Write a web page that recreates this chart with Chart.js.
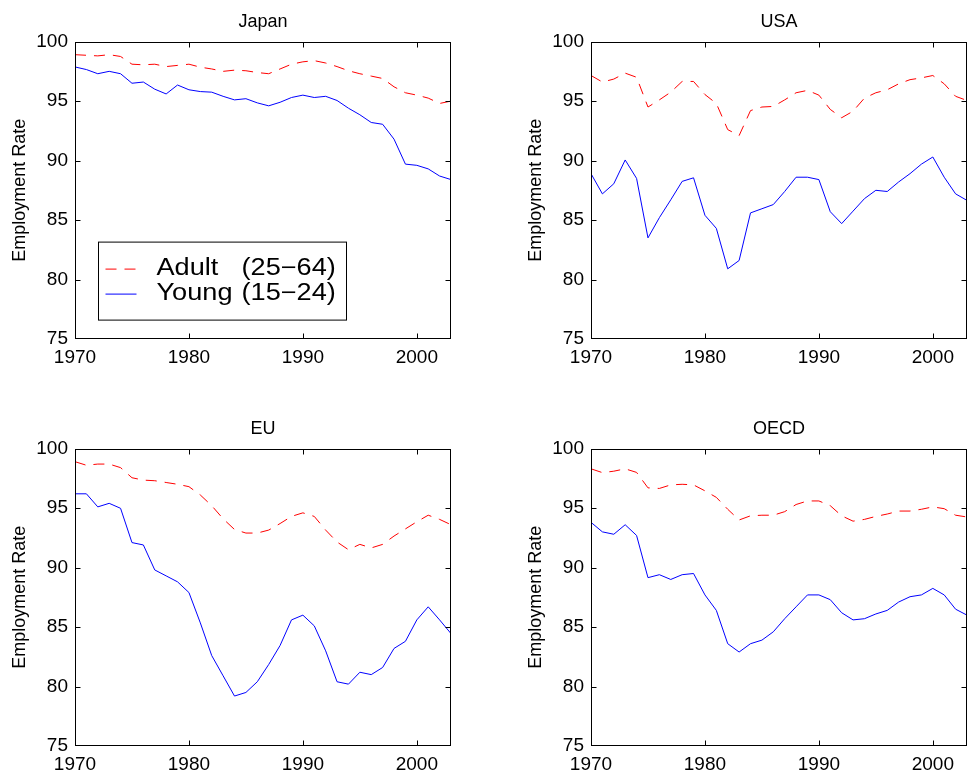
<!DOCTYPE html>
<html>
<head>
<meta charset="utf-8">
<title>Employment Rate</title>
<script src="https://cdn.jsdelivr.net/npm/chart.js@4.4.0/dist/chart.umd.min.js"></script>
<style>
  body { margin: 0; background: #fff; width: 968px; height: 778px; overflow: hidden; position: relative; }
  canvas { position: absolute; }
</style>
</head>
<body>
<canvas id="japan" width="452" height="371" style="left:0;top:0"></canvas>
<canvas id="usa" width="452" height="371" style="left:516px;top:0"></canvas>
<canvas id="eu" width="452" height="371" style="left:0;top:407px"></canvas>
<canvas id="oecd" width="452" height="371" style="left:516px;top:407px"></canvas>
<script>
// years on the x axis
const years = [1970, 1971, 1972, 1973, 1974, 1975, 1976, 1977, 1978, 1979,
               1980, 1981, 1982, 1983, 1984, 1985, 1986, 1987, 1988, 1989,
               1990, 1991, 1992, 1993, 1994, 1995, 1996, 1997, 1998, 1999,
               2000, 2001, 2002, 2003];
const xTicks = [1970, 1980, 1990, 2000];
const yTicks = [75, 80, 85, 90, 95, 100];
const seriesNames = ["Adult", "Young"];
const seriesAges = ["(25\u221264)", "(15\u221224)"];

// Japan
const japanAdult = [98.9, 98.85, 98.8, 98.9, 98.75, 98.1, 98.05, 98.1, 97.9, 98.0,
                    98.1, 97.85, 97.7, 97.5, 97.6, 97.55, 97.4, 97.3, 97.7, 98.1,
                    98.3, 98.4, 98.2, 97.9, 97.55, 97.3, 97.1, 96.9, 96.2, 95.7,
                    95.5, 95.25, 94.8, 95.0];
const japanYoung = [97.87, 97.65, 97.3, 97.5, 97.3, 96.5, 96.6, 96.0, 95.6, 96.35,
                    95.95, 95.8, 95.75, 95.4, 95.1, 95.2, 94.85, 94.6, 94.9, 95.3,
                    95.5, 95.3, 95.4, 95.05, 94.4, 93.85, 93.2, 93.05, 91.8, 89.7,
                    89.6, 89.3, 88.7, 88.4];

// USA
const usaAdult = [97.15, 96.6, 96.85, 97.35, 97.0, 94.5, 95.1, 95.75, 96.65, 96.65,
                  95.55, 94.8, 92.6, 92.1, 94.2, 94.5, 94.55, 95.1, 95.7, 95.9,
                  95.5, 94.3, 93.6, 94.15, 95.25, 95.7, 95.95, 96.45, 96.8, 96.95,
                  97.15, 96.45, 95.4, 95.05];
const usaYoung = [88.9, 87.2, 88.05, 90.05, 88.5, 83.5, 85.2, 86.7, 88.25, 88.55,
                  85.4, 84.3, 80.9, 81.6, 85.6, 85.95, 86.3, 87.4, 88.6, 88.6,
                  88.4, 85.7, 84.7, 85.75, 86.8, 87.5, 87.4, 88.2, 88.9, 89.7,
                  90.3, 88.6, 87.2, 86.65];

// EU
const euAdult = [98.9, 98.6, 98.7, 98.7, 98.4, 97.55, 97.35, 97.3, 97.15, 97.0,
                 96.8, 96.1, 95.2, 94.1, 93.2, 92.9, 92.9, 93.15, 93.7, 94.3,
                 94.6, 94.3, 93.15, 92.15, 91.5, 91.95, 91.65, 91.95, 92.65, 93.25,
                 93.85, 94.4, 94.05, 93.6];
const euYoung = [96.2, 96.2, 95.1, 95.4, 94.98, 92.1, 91.9, 89.8, 89.3, 88.8,
                 87.9, 85.35, 82.6, 80.9, 79.2, 79.5, 80.4, 81.85, 83.45, 85.6,
                 86.0, 85.1, 83.0, 80.4, 80.2, 81.2, 81.0, 81.6, 83.2, 83.8,
                 85.6, 86.7, 85.6, 84.45];

// OECD
const oecdAdult = [98.3, 97.98, 98.1, 98.3, 98.0, 96.7, 96.65, 96.95, 97.0, 96.95,
                   96.45, 95.9, 94.9, 94.0, 94.35, 94.4, 94.4, 94.7, 95.3, 95.6,
                   95.6, 95.2, 94.35, 93.9, 94.05, 94.3, 94.5, 94.75, 94.75, 94.9,
                   95.1, 94.95, 94.4, 94.25];
const oecdYoung = [93.8, 93.0, 92.8, 93.6, 92.7, 89.15, 89.4, 89.0, 89.4, 89.5,
                   87.7, 86.4, 83.6, 82.9, 83.6, 83.9, 84.6, 85.7, 86.7, 87.7,
                   87.7, 87.3, 86.2, 85.6, 85.7, 86.1, 86.4, 87.1, 87.55, 87.7,
                   88.25, 87.7, 86.5, 86.0];

const FONT = '"Liberation Sans", Arial, Helvetica, sans-serif';
Chart.defaults.font.family = FONT;
Chart.defaults.color = "#000";

const ADULT_DASH = [11, 8];

// MATLAB style box with inward ticks on all four sides
const framePlugin = {
  id: "frame",
  afterDraw(chart) {
    const { ctx, chartArea: a, scales } = chart;
    const L = Math.round(a.left) + 0.5, R = Math.round(a.right) - 0.5;
    const T = Math.round(a.top) + 0.5, B = Math.round(a.bottom) - 0.5;
    const tl = 5;
    ctx.save();
    ctx.strokeStyle = "#000";
    ctx.lineWidth = 1;
    ctx.strokeRect(L, T, R - L, B - T);
    ctx.beginPath();
    xTicks.forEach(v => {
      const px = Math.round(scales.x.getPixelForValue(v)) + 0.5;
      if (px <= L + 1 || px >= R - 1) return;
      ctx.moveTo(px, B); ctx.lineTo(px, B - tl);
      ctx.moveTo(px, T); ctx.lineTo(px, T + tl);
    });
    yTicks.forEach(v => {
      const py = Math.round(scales.y.getPixelForValue(v)) + 0.5;
      if (py <= T + 1 || py >= B - 1) return;
      ctx.moveTo(L, py); ctx.lineTo(L + tl, py);
      ctx.moveTo(R, py); ctx.lineTo(R - tl, py);
    });
    ctx.stroke();
    ctx.restore();
  }
};

// legend box drawn inside the Japan panel
const legendBoxPlugin = {
  id: "legendBox",
  afterDraw(chart) {
    const { ctx, chartArea: a } = chart;
    const x0 = a.left + 23.5, y0 = a.top + 200.5, w = 248, h = 78;
    ctx.save();
    ctx.fillStyle = "#fff";
    ctx.fillRect(x0, y0, w, h);
    ctx.strokeStyle = "#000";
    ctx.lineWidth = 1;
    ctx.strokeRect(x0, y0, w, h);
    ctx.textBaseline = "middle";
    ctx.fillStyle = "#000";
    chart.data.datasets.forEach((ds, i) => {
      const cy = y0 + 27 + i * 25;
      ctx.beginPath();
      ctx.strokeStyle = ds.borderColor;
      ctx.setLineDash(ds.borderDash || []);
      ctx.moveTo(x0 + 7, cy);
      ctx.lineTo(x0 + 38, cy);
      ctx.stroke();
      ctx.setLineDash([]);
      // the original font is set wider than it is tall
      [[seriesNames[i], x0 + 58], [seriesAges[i], x0 + 143]].forEach(([txt, tx]) => {
        ctx.save();
        ctx.translate(tx, cy);
        ctx.scale(1.18, 1);
        ctx.font = "23px " + FONT;
        ctx.fillText(txt, 0, 0);
        ctx.restore();
      });
    });
    ctx.restore();
  }
};

function toPoints(values) {
  return years.map((yr, i) => ({ x: yr, y: values[i] }));
}

function makePanel(id, title, adult, young, withLegend) {
  const ctx = document.getElementById(id).getContext("2d");
  return new Chart(ctx, {
    type: "line",
    data: {
      datasets: [
        {
          label: seriesNames[0] + " " + seriesAges[0],
          data: toPoints(adult),
          borderColor: "#ff0000",
          borderWidth: 1,
          borderDash: ADULT_DASH,
          pointRadius: 0,
          tension: 0,
          fill: false
        },
        {
          label: seriesNames[1] + " " + seriesAges[1],
          data: toPoints(young),
          borderColor: "#0000ff",
          borderWidth: 1,
          pointRadius: 0,
          tension: 0,
          fill: false
        }
      ]
    },
    options: {
      responsive: false,
      animation: false,
      devicePixelRatio: 1,
      layout: { padding: { left: 0, right: 1, top: 0, bottom: 0 } },
      plugins: {
        legend: { display: false },
        tooltip: { enabled: false },
        title: {
          display: true,
          text: title,
          fullSize: false,
          color: "#000",
          font: { size: 18, weight: "normal" },
          padding: { top: 11, bottom: 9 }
        }
      },
      scales: {
        x: {
          type: "linear",
          min: 1970,
          max: 2003,
          afterBuildTicks: s => { s.ticks = xTicks.map(v => ({ value: v })); },
          afterFit: s => { s.height = 32; },
          grid: { display: false, drawTicks: false },
          border: { display: false },
          ticks: {
            padding: 7,
            maxRotation: 0,
            autoSkip: false,
            font: { size: 19 },
            color: "#000",
            callback: v => String(v)
          }
        },
        y: {
          min: 75,
          max: 100,
          afterBuildTicks: s => { s.ticks = yTicks.map(v => ({ value: v })); },
          afterFit: s => { s.width = 75; },
          grid: { display: false, drawTicks: false },
          border: { display: false },
          ticks: {
            padding: 7,
            font: { size: 19 },
            color: "#000",
            callback: v => String(v)
          },
          title: {
            display: true,
            text: "Employment Rate",
            color: "#000",
            font: { size: 18 },
            padding: { top: 9, bottom: 0 }
          }
        }
      }
    },
    plugins: withLegend ? [framePlugin, legendBoxPlugin] : [framePlugin]
  });
}

makePanel("japan", "Japan", japanAdult, japanYoung, true);
makePanel("usa", "USA", usaAdult, usaYoung, false);
makePanel("eu", "EU", euAdult, euYoung, false);
makePanel("oecd", "OECD", oecdAdult, oecdYoung, false);
</script>
</body>
</html>
